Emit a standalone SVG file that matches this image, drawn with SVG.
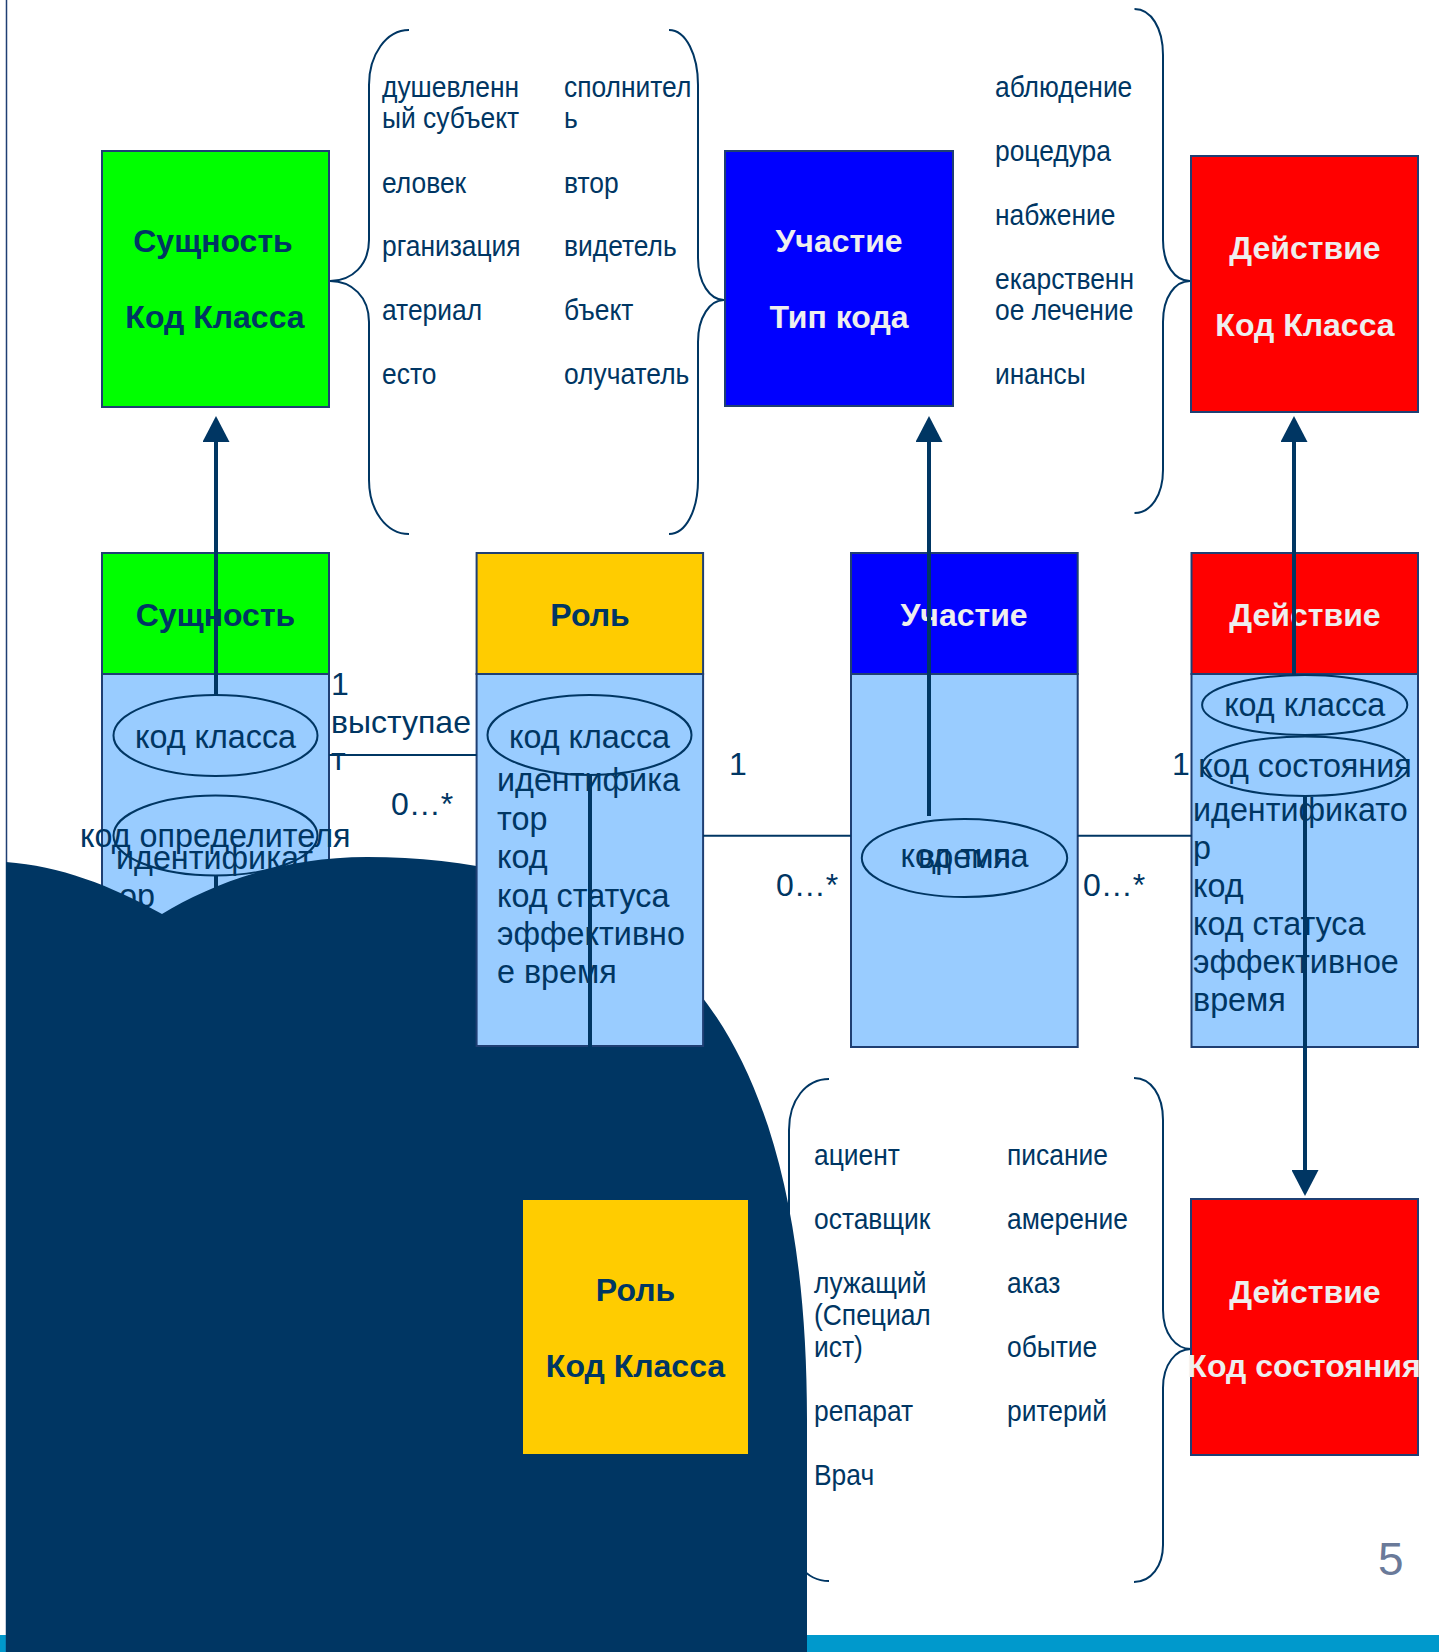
<svg xmlns="http://www.w3.org/2000/svg" width="1439" height="1652" viewBox="0 0 1439 1652">
<defs>
<style>
.box{stroke:#1F3F73;stroke-width:2}
.t{font-family:"Liberation Sans",Arial,sans-serif;fill:#003663}
.b{font-weight:bold;font-size:32px;text-anchor:middle}
.w{fill:#EEEEEE}
.body{font-size:32.3px}
.lst{font-size:29.5px}
.lbl{font-size:32px}
.br{fill:none;stroke:#003663;stroke-width:2}
.ell{fill:none;stroke:#003663;stroke-width:2}
.thick{stroke:#003663;stroke-width:4;fill:none}
.thin{stroke:#003663;stroke-width:2;fill:none}
</style>
<marker id="arr" viewBox="0 0 26 27" refX="1" refY="13.5" markerWidth="26" markerHeight="27" markerUnits="userSpaceOnUse" orient="auto">
<path d="M0,0 L26,13.5 L0,27 z" fill="#003663"/>
</marker>
</defs>
<rect x="0" y="0" width="1439" height="1652" fill="#FFFFFF"/>
<rect x="0" y="1635" width="1439" height="17" fill="#0099CC"/>
<line x1="6.5" y1="0" x2="6.5" y2="1652" stroke="#1F3F73" stroke-width="1.5"/>

<g id="braces">
<path class="br" d="M409,30 C386,30 369,55 369,85 L369,240 C369,265 352,281 330,281 C352,281 369,297 369,322 L369,480 C369,510 386,534 409,534"/>
<path class="br" d="M669,30 C686,30 698,55 698,85 L698,258 C698,283 710,300 724,300 C710,300 698,317 698,342 L698,480 C698,510 686,534 669,534"/>
<path class="br" d="M1134.5,9 C1151,9 1163,28 1163,55 L1163,240 C1163,265 1175,281 1190,281 C1175,281 1163,297 1163,322 L1163,470 C1163,495 1151,513 1134.5,513"/>
<path class="br" d="M829,1079 C806,1079 789,1100 789,1130 L789,1290 C789,1315 772,1330 750,1330 C772,1330 789,1345 789,1370 L789,1530 C789,1560 806,1581 829,1581"/>
<path class="br" d="M1134,1078 C1151,1078 1163,1095 1163,1120 L1163,1310 C1163,1334 1176,1349 1191,1349 C1176,1349 1163,1364 1163,1388 L1163,1545 C1163,1566 1151,1582 1134,1582"/>
</g>

<g id="list-entity" class="t lst" transform="translate(382,0) scale(0.895,1)">
<text x="0" y="97">душевленн</text>
<text x="0" y="128">ый субъект</text>
<text x="0" y="193">еловек</text>
<text x="0" y="256">рганизация</text>
<text x="0" y="320">атериал</text>
<text x="0" y="384">есто</text>
</g>
<g id="list-role" class="t lst" transform="translate(564,0) scale(0.895,1)">
<text x="0" y="97">сполнител</text>
<text x="0" y="128">ь</text>
<text x="0" y="193">втор</text>
<text x="0" y="256">видетель</text>
<text x="0" y="320">бъект</text>
<text x="0" y="384">олучатель</text>
</g>
<g id="list-act" class="t lst" transform="translate(995,0) scale(0.895,1)">
<text x="0" y="97">аблюдение</text>
<text x="0" y="161">роцедура</text>
<text x="0" y="225">набжение</text>
<text x="0" y="289">екарственн</text>
<text x="0" y="320">ое лечение</text>
<text x="0" y="384">инансы</text>
</g>
<g id="list-part" class="t lst" transform="translate(814,0) scale(0.895,1)">
<text x="0" y="1165">ациент</text>
<text x="0" y="1229">оставщик</text>
<text x="0" y="1293">лужащий</text>
<text x="0" y="1325">(Специал</text>
<text x="0" y="1357">ист)</text>
<text x="0" y="1421">репарат</text>
<text x="0" y="1485">Врач</text>
</g>
<g id="list-mood" class="t lst" transform="translate(1007,0) scale(0.895,1)">
<text x="0" y="1165">писание</text>
<text x="0" y="1229">амерение</text>
<text x="0" y="1293">аказ</text>
<text x="0" y="1357">обытие</text>
<text x="0" y="1421">ритерий</text>
</g>

<g id="entity-classcode">
<rect class="box" x="102" y="151" width="227" height="256" fill="#00FF00"/>
<text class="t b" x="213" y="252">Сущность</text>
<text class="t b" x="215" y="328">Код Класса</text>
</g>
<g id="participation-typecode">
<rect class="box" x="725" y="151" width="228" height="255" fill="#0000FF"/>
<text class="t b w" x="839" y="252">Участие</text>
<text class="t b w" x="839" y="328">Тип кода</text>
</g>
<g id="act-classcode">
<rect class="box" x="1191" y="156" width="227" height="256" fill="#FF0000"/>
<text class="t b w" x="1305" y="259">Действие</text>
<text class="t b w" x="1305" y="336">Код Класса</text>
</g>

<g id="entity">
<rect class="box" x="102" y="553" width="227" height="121" fill="#00FF00"/>
<rect class="box" x="102" y="674" width="227" height="420" fill="#99CCFF"/>
<text class="t b" x="215.5" y="626">Сущность</text>
<ellipse class="ell" cx="215.5" cy="735.5" rx="102" ry="40.5"/>
<text class="t body" x="215.5" y="748" text-anchor="middle">код класса</text>
<ellipse class="ell" cx="215.5" cy="835.5" rx="102" ry="40"/>
<text class="t body" x="80" y="847">код определителя</text>
<text class="t body" x="116" y="869">идентификат</text>
<text class="t body" x="119" y="907">ор</text>
</g>

<g id="participation">
<rect class="box" x="851" y="553" width="226.7" height="121" fill="#0000FF"/>
<rect class="box" x="851" y="674" width="226.7" height="373" fill="#99CCFF"/>
<text class="t b w" x="964" y="626">Участие</text>
<ellipse class="ell" cx="964.5" cy="858" rx="102.7" ry="39"/>
<text class="t body" x="964.5" y="867" text-anchor="middle">код типа</text>
<text class="t body" x="964.5" y="868" text-anchor="middle">время</text>
</g>

<g id="act">
<rect class="box" x="1191.5" y="553" width="226.5" height="121" fill="#FF0000"/>
<rect class="box" x="1191.5" y="674" width="226.5" height="373" fill="#99CCFF"/>
<text class="t b w" x="1305" y="626">Действие</text>
<ellipse class="ell" cx="1304.7" cy="705" rx="102.6" ry="30"/>
<text class="t body" x="1304.7" y="716" text-anchor="middle">код класса</text>
<ellipse class="ell" cx="1305" cy="766.3" rx="103" ry="29.7"/>
<text class="t body" x="1305" y="777" text-anchor="middle">код состояния</text>
<text class="t body" x="1193" y="821">идентификато</text>
<text class="t body" x="1193" y="859">р</text>
<text class="t body" x="1193" y="897">код</text>
<text class="t body" x="1193" y="935">код статуса</text>
<text class="t body" x="1193" y="973">эффективное</text>
<text class="t body" x="1193" y="1011">время</text>
</g>

<g id="act-statecode">
<rect class="box" x="1191" y="1199" width="227" height="256" fill="#FF0000"/>
<text class="t b w" x="1305" y="1302.5">Действие</text>
<text class="t b w" x="1304" y="1377">Код состояния</text>
</g>

<path id="backdrop" d="M6,862 C60,866 110,885 162,914 C210,885 280,857 367,857 C640,857 807,1000 807,1420 L807,1652 L6,1652 Z" fill="#003663"/>

<g id="role">
<rect class="box" x="476.6" y="553" width="226.5" height="121" fill="#FFCC00"/>
<rect class="box" x="476.6" y="674" width="226.5" height="372" fill="#99CCFF"/>
<text class="t b" x="590" y="626">Роль</text>
<ellipse class="ell" cx="589.5" cy="735" rx="102" ry="40"/>
<text class="t body" x="589.5" y="748" text-anchor="middle">код класса</text>
<text class="t body" x="497" y="791">идентифика</text>
<text class="t body" x="497" y="830">тор</text>
<text class="t body" x="497" y="868">код</text>
<text class="t body" x="497" y="907">код статуса</text>
<text class="t body" x="497" y="945">эффективно</text>
<text class="t body" x="497" y="983">е время</text>
</g>

<g id="role-classcode">
<rect x="523" y="1200" width="225" height="254" fill="#FFCC00"/>
<text class="t b" x="635.5" y="1301">Роль</text>
<text class="t b" x="635.5" y="1377">Код Класса</text>
</g>

<g id="connectors">
<line class="thick" x1="216" y1="695" x2="216" y2="441" marker-end="url(#arr)"/>
<line class="thick" x1="929" y1="816" x2="929" y2="441" marker-end="url(#arr)"/>
<line class="thick" x1="1294" y1="675" x2="1294" y2="441" marker-end="url(#arr)"/>
<line class="thick" x1="1305" y1="796" x2="1305" y2="1171" marker-end="url(#arr)"/>
<line class="thick" x1="590" y1="775" x2="590" y2="1060"/>
<line class="thick" x1="216" y1="875" x2="216" y2="940"/>
<line class="thin" x1="329" y1="755" x2="476.6" y2="755"/>
<line class="thin" x1="703" y1="835.7" x2="851" y2="835.7"/>
<line class="thin" x1="1077.7" y1="835.7" x2="1191.5" y2="835.7"/>
<g class="t lbl">
<text x="331" y="695">1</text>
<text x="331" y="733">выступае</text>
<text x="331" y="770">т</text>
<text x="391" y="815">0…*</text>
<text x="729" y="775">1</text>
<text x="776" y="896">0…*</text>
<text x="1083" y="896">0…*</text>
<text x="1172" y="775">1</text>
</g>
</g>

<text x="1378" y="1575" font-family="Liberation Sans, Arial, sans-serif" font-size="46" fill="#6A7A99">5</text>
</svg>
